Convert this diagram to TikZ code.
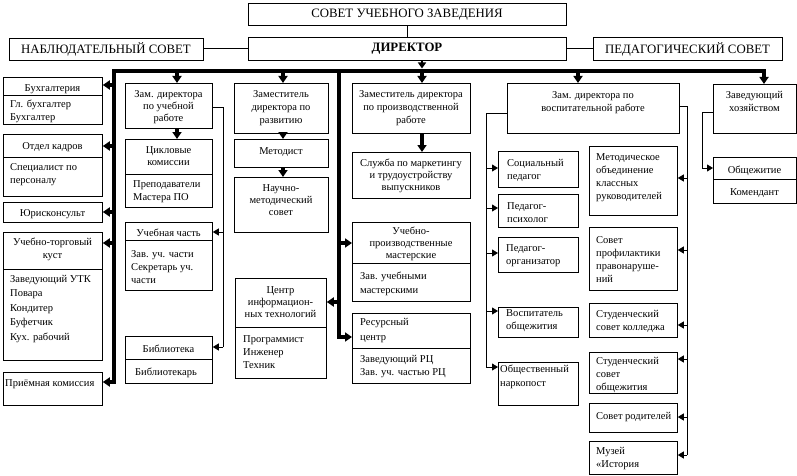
\documentclass[tikz,border=0pt]{standalone}
\usepackage{fontspec}
\setmainfont{Liberation Serif}
\usetikzlibrary{arrows.meta}
\newcommand\fs{\fontsize{10.5}{13}\selectfont}
\newcommand\fsb{\fontsize{10.5}{12}\selectfont}
\newcommand\bx[5]{\node[box, minimum width={(#4)-(#2)}, minimum height={(#5)-(#3)}] (#1) at (#2,#3) {};}
\newcommand\dv[2]{\draw[thn] (#1.west |- 0,#2) -- (#1.east |- 0,#2);}
\newcommand\tcn[4]{\node[tcs] (#1) at (#2,{#3-5}) {#4};}
\newcommand\tln[4]{\node[tls] (#1) at (#2,{#3-5}) {#4};}
\begin{document}
\begin{tikzpicture}[x=1pt,y=-1pt,
  box/.style={draw, line width=0.8pt, inner sep=0pt, anchor=north west},
  tcs/.style={inner sep=0pt, anchor=north, align=center, font=\fs, execute at begin node=\strut},
  tls/.style={inner sep=0pt, anchor=north west, align=left, font=\fs, execute at begin node=\strut},
  ttl/.style={inner sep=0pt, font=\fontsize{12.8}{14}\selectfont},
  thn/.style={line width=0.8pt},
  thk/.style={line width=3.5pt},
  tarr/.style={thn, -{Triangle[length=6pt,width=7pt]}},
  karr/.style={thk, -{Triangle[length=7pt,width=9pt]}},
]
\useasboundingbox (0,0) rectangle (797,476);
% top
\bx{sovet}{248}{3}{566}{25}
\node[ttl] (sovet-t) at (407,14.5) {СОВЕТ УЧЕБНОГО ЗАВЕДЕНИЯ};
\bx{dir}{248}{37}{566}{60}
\node[ttl, font=\fontsize{12.8}{14}\selectfont\bfseries] (dir-t) at (407,49) {ДИРЕКТОР};
\bx{nab}{9}{38}{203}{60}
\node[ttl] (nab-t) at (106,49.5) {НАБЛЮДАТЕЛЬНЫЙ СОВЕТ};
\bx{ped}{593}{37}{782}{60}
\node[ttl] (ped-t) at (687.5,49) {ПЕДАГОГИЧЕСКИЙ СОВЕТ};
\draw[thn] (sovet) -- (dir);
\draw[thn] (nab.east |- 0,48) -- (dir.west |- 0,48);
\draw[thn] (dir.east |- 0,48) -- (ped.west |- 0,48);

% left column
\bx{buh}{3}{77}{102}{124}\dv{buh}{95}
\tcn{buh-t}{52.5}{87}{Бухгалтерия}
\tln{buh-i}{10}{105}{Гл. бухгалтер\\Бухгалтер}
\bx{otd}{3}{134}{102}{196}\dv{otd}{157}
\tcn{otd-t}{52.5}{145}{Отдел кадров}
\tln{otd-i}{10}{168}{Специалист по\\персоналу}
\bx{yur}{3}{202}{102}{222}
\tcn{yur-t}{52.5}{212}{Юрисконсульт}
\bx{utk}{3}{232}{102}{360}\dv{utk}{269}
\tcn{utk-t}{52.5}{243}{Учебно-торговый\\куст}
\node[tls, font=\fontsize{10.5}{14.5}\selectfont] (utk-i) at (10,{280-5}) {Заведующий УТК\\Повара\\Кондитер\\Буфетчик\\Кух. рабочий};
\bx{priem}{3}{372}{102}{405}
\tln{priem-t}{5}{382}{Приёмная комиссия}

% column 2
\bx{zamuch}{125}{83}{212}{128}
\node[tcs, font=\fsb] (zamuch-t) at (168.5,{95-5}) {Зам. директора\\по учебной\\работе};
\bx{cik}{125}{139}{212}{207}\dv{cik}{174}
\node[tcs, font=\fsb] (cik-t) at (168.5,{151-5}) {Цикловые\\комиссии};
\tln{cik-i}{133}{185}{Преподаватели\\Мастера ПО}
\bx{uch}{125}{222}{212}{290}\dv{uch}{240}
\tcn{uch-t}{168.5}{232}{Учебная часть}
\tln{uch-i}{131}{255}{Зав. уч. части\\Секретарь уч.\\части}
\bx{bib}{125}{336}{212}{383}\dv{bib}{359}
\tcn{bib-t}{168.5}{348}{Библиотека}
\tln{bib-i}{135}{371}{Библиотекарь}

% column 3
\bx{zamraz}{234}{83}{328}{133}
\tcn{zamraz-t}{281}{95}{Заместитель\\директора по\\развитию}
\bx{met}{234}{139}{328}{167}
\tcn{met-t}{281}{150}{Методист}
\bx{nms}{234}{177}{328}{232}
\node[tcs, font=\fsb] (nms-t) at (281,{189-5}) {Научно-\\методический\\совет};
\bx{cit}{235}{278}{326}{378}\dv{cit}{327}
\node[tcs, font=\fsb] (cit-t) at (280.5,{291-5}) {Центр\\информацион-\\ных технологий};
\tln{cit-i}{243}{340}{Программист\\Инженер\\Техник}

% column 4
\bx{zampr}{352}{83}{470}{133}
\tcn{zampr-t}{411}{95}{Заместитель директора\\по производственной\\работе}
\bx{slu}{352}{152}{470}{198}
\node[tcs, font=\fsb] (slu-t) at (411,{164-5}) {Служба по маркетингу\\и трудоустройству\\выпускников};
\bx{upm}{352}{222}{470}{301}\dv{upm}{263}
\node[tcs, font=\fsb] (upm-t) at (411,{232-5}) {Учебно-\\производственные\\мастерские};
\node[tls, font=\fontsize{10.5}{14}\selectfont] (upm-i) at (360,{277-5}) {Зав. учебными\\мастерскими};
\bx{res}{352}{313}{470}{383}\dv{res}{348}
\node[tls, font=\fontsize{10.5}{15}\selectfont] (res-t) at (360,{323-5}) {Ресурсный\\центр};
\tln{res-i}{360}{360}{Заведующий РЦ\\Зав. уч. частью РЦ}

% column 5
\bx{zamvos}{507}{83}{679}{133}
\tcn{zamvos-t}{593}{96}{Зам. директора по\\воспитательной работе}
\bx{soc}{498}{151}{578}{187}
\tln{soc-t}{507}{164}{Социальный\\педагог}
\bx{psi}{498}{194}{578}{227}
\tln{psi-t}{507}{207}{Педагог-\\психолог}
\bx{org}{498}{237}{578}{272}
\tln{org-t}{506}{249}{Педагог-\\организатор}
\bx{vos}{498}{307}{578}{337}
\tln{vos-t}{506}{314}{Воспитатель\\общежития}
\bx{nar}{498}{362}{578}{405}
\node[tls, font=\fontsize{10.5}{14}\selectfont] (nar-t) at (500,{370-5}) {Общественный\\наркопост};

% column 6
\bx{mob}{589}{146}{677}{215}
\tln{mob-t}{596}{158}{Методическое\\объединение\\классных\\руководителей}
\bx{prof}{589}{227}{677}{290}
\tln{prof-t}{596}{241}{Совет\\профилактики\\правонаруше-\\ний}
\bx{skol}{589}{303}{677}{337}
\tln{skol-t}{596}{315}{Студенческий\\совет колледжа}
\bx{sob}{589}{352}{677}{393}
\tln{sob-t}{596}{362}{Студенческий\\совет\\общежития}
\bx{rod}{589}{403}{677}{432}
\tln{rod-t}{596}{415}{Совет родителей}
\bx{muz}{589}{441}{677}{474}
\tln{muz-t}{596}{452}{Музей\\«История}

% column 7
\bx{zav}{713}{84}{796}{133}
\tcn{zav-t}{754.5}{96}{Заведующий\\хозяйством}
\bx{obs}{713}{157}{796}{203}\dv{obs}{179}
\tcn{obs-t}{754.5}{169}{Общежитие}
\tcn{obs-i}{754.5}{191}{Комендант}

% thick bus
\coordinate (bL) at (114,71);
\coordinate (bR) at (764,71);
\coordinate (bM) at (339,71);
\coordinate (b1) at (177,71);
\coordinate (b2) at (283,71);
\coordinate (b3) at (422,71);
\coordinate (b4) at (578,71);
\draw[line width=1.6pt, -{Triangle[length=6pt,width=8pt]}] (dir.south -| b3) -- ([yshift=2.5pt]b3);
\draw[thk, line cap=rect] (bR) -- (bL) -- (bL |- 0,382);
\draw[thk, line cap=rect] (bM) -- (bM |- 0,337);
\draw[karr] (b1) -- (b1 |- zamuch.north);
\draw[karr] (b2) -- (b2 |- zamraz.north);
\draw[karr] (b3) -- (b3 |- zampr.north);
\draw[karr] (b4) -- (b4 |- zamvos.north);
\draw[karr] (bR) -- (bR |- zav.north);
\draw[karr] (b2 |- zamraz.south) -- (b2 |- met.north);
\draw[karr] (b2 |- met.south) -- (b2 |- nms.north);
\draw[karr] (b3 |- zampr.south) -- (b3 |- slu.north);
\draw[karr] (b1 |- zamuch.south) -- (b1 |- cik.north);
% left arrows
\draw[karr] (bL |- 0,85) -- (buh.east |- 0,85);
\draw[karr] (bL |- 0,146) -- (otd.east |- 0,146);
\draw[karr] (bL |- 0,212) -- (yur.east |- 0,212);
\draw[karr] (bL |- 0,243) -- (utk.east |- 0,243);
\draw[karr] (bL |- 0,382) -- (priem.east |- 0,382);
% middle arrows
\draw[karr] (bM |- 0,243) -- (upm.west |- 0,243);
\draw[karr] (bM |- 0,302) -- (cit.east |- 0,302);
\draw[karr] (bM |- 0,337) -- (res.west |- 0,337);

% thin connectors
\coordinate (u1) at (223,107);
\draw[thn] (zamuch.east |- u1) -- (u1) -- (u1 |- 0,347);
\draw[tarr] (u1 |- 0,232) -- (uch.east |- 0,232);
\draw[tarr] (u1 |- 0,347) -- (bib.east |- 0,347);
\coordinate (v1) at (486,113);
\draw[thn] (zamvos.west |- v1) -- (v1) -- (v1 |- 0,367);
\draw[tarr] (v1 |- 0,168) -- (soc.west |- 0,168);
\draw[tarr] (v1 |- 0,208) -- (psi.west |- 0,208);
\draw[tarr] (v1 |- 0,253) -- (org.west |- 0,253);
\draw[tarr] (v1 |- 0,311) -- (vos.west |- 0,311);
\draw[tarr] (v1 |- 0,367) -- (nar.west |- 0,367);
\coordinate (w1) at (687,106);
\draw[thn] (zamvos.east |- w1) -- (w1) -- (w1 |- 0,455);
\draw[tarr] (w1 |- 0,178) -- (mob.east |- 0,178);
\draw[tarr] (w1 |- 0,250) -- (prof.east |- 0,250);
\draw[tarr] (w1 |- 0,325) -- (skol.east |- 0,325);
\draw[tarr] (w1 |- 0,359) -- (sob.east |- 0,359);
\draw[tarr] (w1 |- 0,417) -- (rod.east |- 0,417);
\draw[tarr] (w1 |- 0,455) -- (muz.east |- 0,455);
\coordinate (z1) at (702,112);
\draw[thn] (zav.west |- z1) -- (z1) -- (z1 |- 0,168);
\draw[tarr] (z1 |- 0,168) -- (obs.west |- 0,168);
\end{tikzpicture}
\end{document}
